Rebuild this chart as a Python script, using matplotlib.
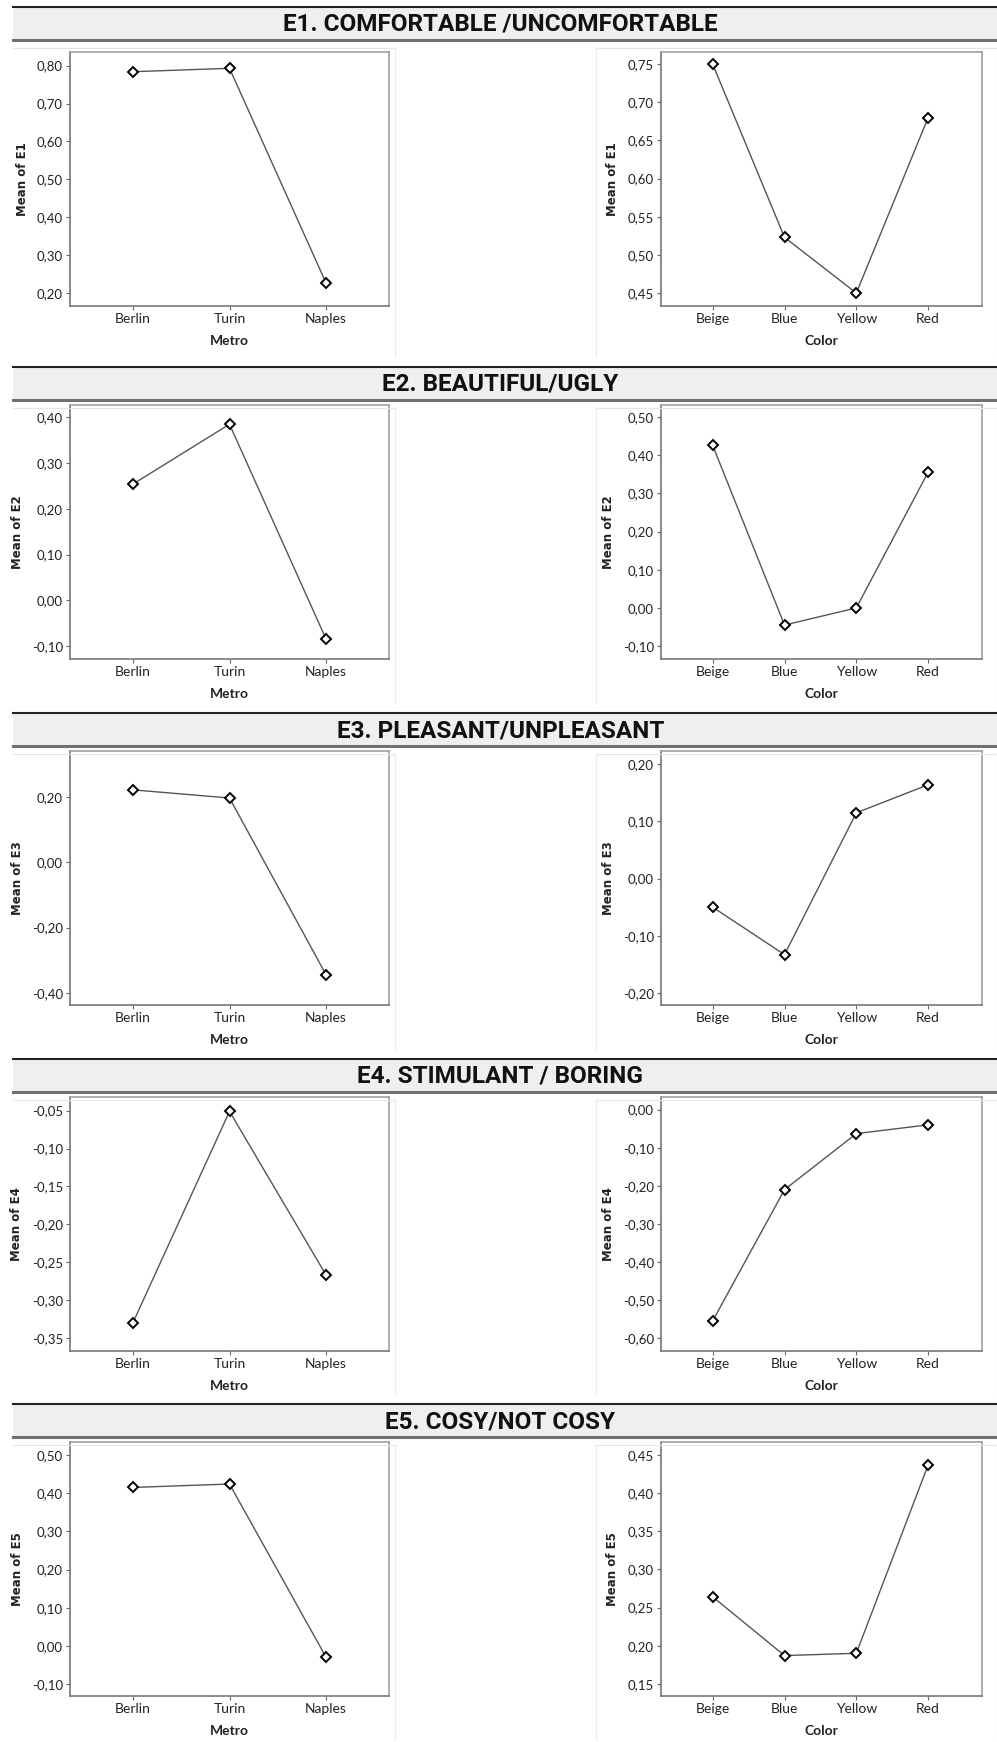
import matplotlib
matplotlib.use("Agg")
from matplotlib import pyplot as plt
from matplotlib.patches import Rectangle
from matplotlib.lines import Line2D
from matplotlib.ticker import FuncFormatter
import numpy as np

# section titles
titles = ["E1. COMFORTABLE /UNCOMFORTABLE", "E2. BEAUTIFUL/UGLY",
          "E3. PLEASANT/UNPLEASANT", "E4. STIMULANT / BORING",
          "E5. COSY/NOT COSY"]
ylabels = ["Mean of E1", "Mean of E2", "Mean of E3", "Mean of E4", "Mean of E5"]

metros = ["Berlin", "Turin", "Naples"]
colors = ["Beige", "Blue", "Yellow", "Red"]

metro_means = [
    [0.784, 0.793, 0.226],
    [0.254, 0.385, -0.085],
    [0.222, 0.197, -0.345],
    [-0.330, -0.051, -0.267],
    [0.415, 0.424, -0.030],
]
color_means = [
    [0.750, 0.523, 0.450, 0.680],
    [0.426, -0.045, 0.000, 0.356],
    [-0.050, -0.133, 0.115, 0.164],
    [-0.554, -0.210, -0.063, -0.040],
    [0.264, 0.187, 0.190, 0.437],
]

metro_ticks = [
    [0.20, 0.30, 0.40, 0.50, 0.60, 0.70, 0.80],
    [-0.10, 0.00, 0.10, 0.20, 0.30, 0.40],
    [-0.40, -0.20, 0.00, 0.20],
    [-0.35, -0.30, -0.25, -0.20, -0.15, -0.10, -0.05],
    [-0.10, 0.00, 0.10, 0.20, 0.30, 0.40, 0.50],
]
color_ticks = [
    [0.45, 0.50, 0.55, 0.60, 0.65, 0.70, 0.75],
    [-0.10, 0.00, 0.10, 0.20, 0.30, 0.40, 0.50],
    [-0.20, -0.10, 0.00, 0.10, 0.20],
    [-0.60, -0.50, -0.40, -0.30, -0.20, -0.10, 0.00],
    [0.15, 0.20, 0.25, 0.30, 0.35, 0.40, 0.45],
]
metro_lims = [(0.166, 0.836), (-0.128, 0.427), (-0.437, 0.341), (-0.367, -0.032), (-0.131, 0.534)]
color_lims = [(0.433, 0.766), (-0.134, 0.532), (-0.221, 0.223), (-0.633, 0.033), (0.134, 0.467)]

W, H = 997, 1742
fig = plt.figure(figsize=(W / 100, H / 100), dpi=100)

bar_top = [7, 367, 713, 1059, 1404]
bar_h = 33
ax_top = [52, 405, 751, 1097, 1442]
ax_h = 254

tick_fam = ["Lato", "DejaVu Sans"]


def px(x, y, w, h):
    return [x / W, 1 - (y + h) / H, w / W, h / H]


def comma(v, pos):
    return ("%.2f" % v).replace(".", ",")


def draw_panel(rect, cats, vals, ticks, lims, xlab, ylab, xlim):
    ax = fig.add_axes(px(*rect))
    ax.plot(range(len(cats)), vals, color="#555555", lw=1.0,
            marker="D", ms=5, mfc="white", mec="black", mew=1.4)
    ax.set_xlim(*xlim)
    ax.set_ylim(*lims)
    ax.set_yticks(ticks)
    ax.yaxis.set_major_formatter(FuncFormatter(comma))
    ax.set_xticks(range(len(cats)))
    ax.set_xticklabels(cats)
    for lab in ax.get_yticklabels():
        lab.set_fontfamily(tick_fam)
        lab.set_fontsize(9.5)
        lab.set_color("#222222")
    for lab in ax.get_xticklabels():
        lab.set_fontfamily(tick_fam)
        lab.set_fontsize(10)
        lab.set_color("#222222")
    ax.tick_params(direction="out", length=3, width=0.8, color="#666666", pad=2)
    for s in ax.spines.values():
        s.set_color("#a0a0a0")
        s.set_linewidth(1.2)
    ax.spines["left"].set_color("#777777")
    ax.spines["bottom"].set_color("#777777")
    ax.set_ylabel(ylab, family="DejaVu Sans", fontweight="bold", fontsize=8.5,
                  color="#222222", labelpad=6)
    ax.set_xlabel(xlab, family=tick_fam, fontweight="bold",
                  fontsize=10, color="#222222", labelpad=7)
    return ax


for i in range(5):
    y0 = bar_top[i]
    # title bar
    fig.patches.append(Rectangle((13 / W, 1 - (y0 + bar_h) / H), (W - 13) / W, bar_h / H,
                                 transform=fig.transFigure, facecolor="#efefef",
                                 edgecolor="none", zorder=0))
    fig.add_artist(Line2D([13 / W, 1], [1 - y0 / H] * 2, color="#222222", lw=1.5))
    fig.add_artist(Line2D([13 / W, 1], [1 - (y0 + bar_h) / H] * 2, color="#707070", lw=2.2))
    fig.text(0.502, 1 - (y0 + bar_h / 2 + 1) / H, titles[i],
             family=["Roboto", "DejaVu Sans"], fontweight="bold",
             fontsize=17.5, ha="center", va="center", color="#111111")

    # faint graph frames
    ft = 1 - (y0 + bar_h + 8) / H
    fb = 1 - (bar_top[i + 1] - 10) / H if i < 4 else 1 - (H - 2) / H
    for xa, xb in [(13, 395), (596, 997)]:
        fig.add_artist(Line2D([xa / W, xb / W], [ft, ft], color="#e6e6e6", lw=0.8))
        fig.add_artist(Line2D([xb / W, xb / W], [ft, fb], color="#ebebeb", lw=0.8))
    fig.add_artist(Line2D([596 / W, 596 / W], [ft, fb], color="#ebebeb", lw=0.8))

    draw_panel((70, ax_top[i], 319, ax_h), metros, metro_means[i], metro_ticks[i],
               metro_lims[i], "Metro", ylabels[i], (-0.65, 2.65))
    draw_panel((661, ax_top[i], 321, ax_h), colors, color_means[i], color_ticks[i],
               color_lims[i], "Color", ylabels[i], (-0.72, 3.75))

fig.savefig("out.png", dpi=100)
